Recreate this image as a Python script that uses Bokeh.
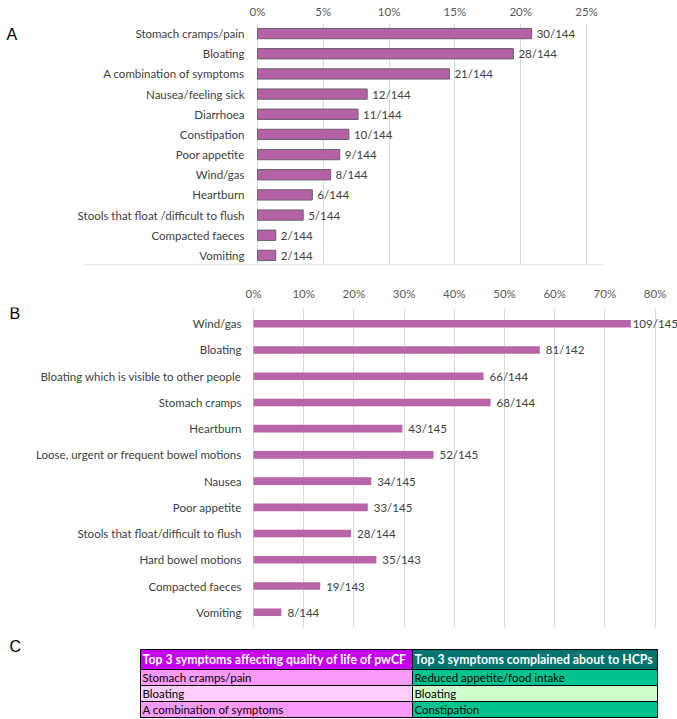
from bokeh.plotting import figure
from bokeh.models import Range1d, FactorRange, FixedTicker, NumeralTickFormatter
from bokeh.layouts import column
from bokeh.embed import file_html
from bokeh.resources import INLINE
from bokeh.core.properties import value

# ---------------- data ----------------
a_symptoms = ["Stomach cramps/pain", "Bloating", "A combination of symptoms",
              "Nausea/feeling sick", "Diarrhoea", "Constipation", "Poor appetite",
              "Wind/gas", "Heartburn", "Stools that float /difficult to flush",
              "Compacted faeces", "Vomiting"]
a_counts = [30, 28, 21, 12, 11, 10, 9, 8, 6, 5, 2, 2]
a_totals = [144, 144, 144, 144, 144, 144, 144, 144, 144, 144, 144, 144]
a_ticks = [0, 0.05, 0.10, 0.15, 0.20, 0.25]

b_symptoms = ["Wind/gas", "Bloating", "Bloating which is visible to other people",
              "Stomach cramps", "Heartburn", "Loose, urgent or frequent bowel motions",
              "Nausea", "Poor appetite", "Stools that float/difficult to flush",
              "Hard bowel motions", "Compacted faeces", "Vomiting"]
b_counts = [109, 81, 66, 68, 43, 52, 34, 33, 28, 35, 19, 8]
b_totals = [145, 142, 144, 144, 145, 145, 145, 145, 144, 143, 143, 144]
b_ticks = [0, 0.1, 0.2, 0.3, 0.4, 0.5, 0.6, 0.7, 0.8]

c_headers = ["Top 3 symptoms affecting quality of life of pwCF",
             "Top 3 symptoms complained about to HCPs"]
c_left = ["Stomach cramps/pain", "Bloating", "A combination of symptoms"]
c_right = ["Reduced appetite/food intake", "Bloating", "Constipation"]

panel_letters = ["A", "B", "C"]

# ---------------- styles / layout ----------------
W = 677
FONT = "Lato"
LBL = "11.5px"
TXT = "#404040"
TICK = "#595959"
GRID = "#d9d9d9"
BAR_A = "#b461a6"
BAR_A_LINE = "#686068"
BAR_B = "#b764a8"

A_ZERO = 257      # px from figure left where 0% sits
A_SCALE = 1316.0  # px per unit (100%)
B_ZERO = 253
B_SCALE = 502.0
LABEL_CHAR_PX = 6.4


def style_common(p):
    p.outline_line_color = None
    p.background_fill_color = "white"
    p.border_fill_color = "white"
    p.ygrid.grid_line_color = None


def style_top_axis(p, ticks, standoff):
    ax = p.xaxis[0]
    ax.ticker = FixedTicker(ticks=ticks)
    ax.formatter = NumeralTickFormatter(format="0%")
    ax.axis_line_color = None
    ax.major_tick_line_color = None
    ax.minor_tick_line_color = None
    ax.major_tick_out = 0
    ax.major_tick_in = 0
    ax.minor_tick_out = 0
    ax.minor_tick_in = 0
    ax.major_label_text_font = FONT
    ax.major_label_text_font_size = LBL
    ax.major_label_text_color = TICK
    ax.major_label_standoff = standoff
    p.xgrid.ticker = FixedTicker(ticks=ticks)
    p.xgrid.grid_line_color = GRID
    p.xgrid.grid_line_width = 1


# ---------------- panel A ----------------
a_pct = [c / t for c, t in zip(a_counts, a_totals)]
a_labels = [f"{c}/{t}" for c, t in zip(a_counts, a_totals)]

pA = figure(width=W, height=268,
            x_range=Range1d(-A_ZERO / A_SCALE, (W - A_ZERO) / A_SCALE),
            y_range=FactorRange(factors=a_symptoms[::-1], range_padding=0),
            x_axis_location="above", y_axis_location=None,
            output_backend="svg", toolbar_location=None,
            min_border_left=0, min_border_right=0,
            min_border_top=23, min_border_bottom=3)
style_common(pA)
style_top_axis(pA, a_ticks, 6)

# bottom horizontal line of the chart area (from label start to plot right)
pA.segment(x0=[-174 / A_SCALE], x1=[346 / A_SCALE], y0=[0.03], y1=[0.03],
           line_color=GRID, line_width=1)

pA.hbar(y=a_symptoms, left=0, right=a_pct, height=0.51,
        fill_color=BAR_A, line_color=BAR_A_LINE, line_width=1)
pA.text(x=a_pct, y=a_symptoms, text=a_labels, x_offset=5,
        text_align="left", text_baseline="middle",
        text_font=value(FONT), text_font_size=LBL, text_color=TXT)
pA.text(x=[0] * len(a_symptoms), y=a_symptoms, text=a_symptoms, x_offset=-13,
        text_align="right", text_baseline="middle",
        text_font=value(FONT), text_font_size=LBL, text_color=TXT)
pA.text(x=[-A_ZERO / A_SCALE], y=[a_symptoms[0]], text=[panel_letters[0]],
        x_offset=6, y_offset=1, text_align="left", text_baseline="middle",
        text_font=value("Liberation Sans"), text_font_size="16px", text_color="#000000")

# ---------------- panel B ----------------
b_pct = [c / t for c, t in zip(b_counts, b_totals)]
b_labels = [f"{c}/{t}" for c, t in zip(b_counts, b_totals)]
# label gap: 6px normally, squeezed when the label would run off the right edge
b_gaps = [max(1, min(6, W - (B_ZERO + v * B_SCALE) - len(s) * LABEL_CHAR_PX))
          for v, s in zip(b_pct, b_labels)]

pB = figure(width=W, height=360,
            x_range=Range1d(-B_ZERO / B_SCALE, (W - B_ZERO) / B_SCALE),
            y_range=FactorRange(factors=b_symptoms[::-1], range_padding=0.12,
                                range_padding_units="absolute"),
            x_axis_location="above", y_axis_location=None,
            output_backend="svg", toolbar_location=None,
            min_border_left=0, min_border_right=0,
            min_border_top=39, min_border_bottom=0)
style_common(pB)
style_top_axis(pB, b_ticks, 8)

pB.hbar(y=b_symptoms, left=0, right=b_pct, height=0.29,
        fill_color=BAR_B, line_color=None)
pB.text(x=b_pct, y=b_symptoms, text=b_labels, x_offset=b_gaps,
        text_align="left", text_baseline="middle",
        text_font=value(FONT), text_font_size=LBL, text_color=TXT)
pB.text(x=[0] * len(b_symptoms), y=b_symptoms, text=b_symptoms, x_offset=-12,
        text_align="right", text_baseline="middle",
        text_font=value(FONT), text_font_size=LBL, text_color=TXT)
pB.text(x=[-B_ZERO / B_SCALE], y=[b_symptoms[0]], text=[panel_letters[1]],
        x_offset=9, y_offset=-10, text_align="left", text_baseline="middle",
        text_font=value("Liberation Sans"), text_font_size="16px", text_color="#000000")

# ---------------- panel C (table) ----------------
H_C = 91
pC = figure(width=W, height=H_C, x_range=Range1d(0, W), y_range=Range1d(H_C, 0),
            x_axis_location=None, y_axis_location=None,
            output_backend="svg", toolbar_location=None,
            min_border_left=0, min_border_right=0, min_border_top=0, min_border_bottom=0)
pC.outline_line_color = None
pC.xgrid.grid_line_color = None
pC.ygrid.grid_line_color = None
pC.background_fill_color = "white"
pC.border_fill_color = "white"

T_LEFT, T_SPLIT, T_RIGHT = 140, 412, 657
T_TOP, HEAD_H, ROW_H = 21, 20, 16

left_fill = ["#c400ee", "#fa9bfa", "#fdcdfd", "#fa9bfa"]
right_fill = ["#00746f", "#00c490", "#ccffcc", "#00c490"]

tops = [T_TOP] + [T_TOP + HEAD_H + i * ROW_H for i in range(len(c_left))]
bottoms = [T_TOP + HEAD_H] + [T_TOP + HEAD_H + (i + 1) * ROW_H for i in range(len(c_left))]
mids = [(t + b) / 2 for t, b in zip(tops, bottoms)]

pC.quad(left=[T_LEFT] * 4, right=[T_SPLIT] * 4, top=tops, bottom=bottoms,
        fill_color=left_fill, line_color="#000000", line_width=1)
pC.quad(left=[T_SPLIT] * 4, right=[T_RIGHT] * 4, top=tops, bottom=bottoms,
        fill_color=right_fill, line_color="#000000", line_width=1)

pC.text(x=[T_LEFT, T_SPLIT], y=[mids[0], mids[0]], text=c_headers, x_offset=2,
        text_align="left", text_baseline="middle",
        text_font=value(FONT), text_font_size="12.3px", text_font_style="bold",
        text_color="#ffffff")
pC.text(x=[T_LEFT] * 3, y=mids[1:], text=c_left, x_offset=2,
        text_align="left", text_baseline="middle",
        text_font=value(FONT), text_font_size=LBL, text_color="#000000")
pC.text(x=[T_SPLIT] * 3, y=mids[1:], text=c_right, x_offset=2,
        text_align="left", text_baseline="middle",
        text_font=value(FONT), text_font_size=LBL, text_color="#000000")
pC.text(x=[0], y=[17.5], text=[panel_letters[2]], x_offset=9,
        text_align="left", text_baseline="middle",
        text_font=value("Liberation Sans"), text_font_size="16px", text_color="#000000")

layout = column(pA, pB, pC, spacing=0)
open("out.html", "w").write(file_html(layout, INLINE))
